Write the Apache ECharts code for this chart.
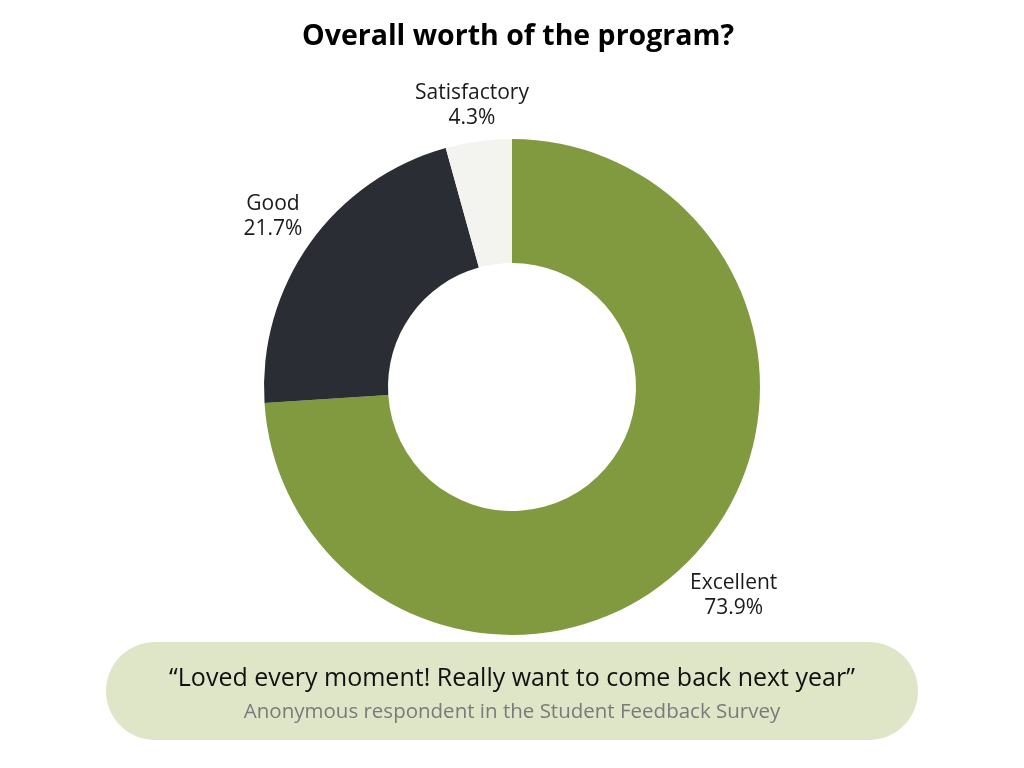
<!DOCTYPE html>
<html>
<head>
<meta charset="utf-8">
<script src="https://cdn.jsdelivr.net/npm/echarts@6/dist/echarts.min.js"></script>
<style>
html,body{margin:0;padding:0;background:#fff;}
#chart{width:1024px;height:768px;}
</style>
</head>
<body>
<div id="chart"></div>
<script>
const categories = ['Excellent', 'Good', 'Satisfactory'];
const percentages = [73.9, 21.7, 4.3];
const colors = ['#819a40', '#2a2d34', '#f3f4ef'];
const chartTitle = 'Overall worth of the program?';
const quoteText = '\u201CLoved every moment! Really want to come back next year\u201D';
const quoteSource = 'Anonymous respondent in the Student Feedback Survey';

const FONT = '"Open Sans", Lato, sans-serif';
// label nudges in px (style only)
const labelShiftY = [5, 2, 13];
const labelShiftX = [5, 3, 0];

const pieData = categories.map((c, i) => ({ name: c, value: percentages[i], itemStyle: { color: colors[i] } }));
const labelData = categories.map((c, i) => ({ name: c, value: percentages[i] }));

const labelTextStyle = { fontFamily: FONT, fontSize: 21, lineHeight: 25, color: '#1a1a1a', align: 'center' };

const chart = echarts.init(document.getElementById('chart'), null, { renderer: 'canvas' });
chart.setOption({
  backgroundColor: '#ffffff',
  animation: false,
  title: [
    {
      text: chartTitle,
      left: 297,
      top: 17,
      textStyle: { fontFamily: FONT, fontSize: 28.5, fontWeight: 'bold', color: '#000' }
    },
    {
      text: quoteText,
      subtext: quoteSource,
      left: 'center',
      top: 661,
      itemGap: 11,
      textStyle: { fontFamily: FONT, fontSize: 25, fontWeight: 'normal', color: '#111' },
      subtextStyle: { fontFamily: FONT, fontSize: 20.5, color: '#7a7a7a' }
    }
  ],
  graphic: [
    {
      type: 'rect',
      z: -10,
      shape: { x: 106, y: 642, width: 812, height: 98, r: 49 },
      style: { fill: '#dfe6c8' },
      silent: true
    }
  ],
  series: [
    {
      type: 'pie',
      center: [512, 387],
      radius: [124, 248],
      startAngle: 90,
      clockwise: true,
      silent: true,
      label: { show: false },
      labelLine: { show: false },
      data: pieData
    },
    {
      type: 'pie',
      center: [512, 387],
      radius: [248, 340],
      startAngle: 90,
      clockwise: true,
      silent: true,
      itemStyle: { color: 'rgba(0,0,0,0)' },
      label: {
        show: true,
        position: 'inside',
        formatter: function (p) {
          return '{sp| }\n{t|' + p.name + '}\n{t|' + p.value + '%}';
        },
        align: 'center',
        rich: {
          t: labelTextStyle,
          sp: { fontSize: 1, lineHeight: 1, height: 1 }
        }
      },
      labelLine: { show: false },
      data: labelData.map((d, i) => ({
        name: d.name,
        value: d.value,
        label: {
          rich: {
            sp: { fontSize: 1, lineHeight: labelShiftY[i] * 2, height: labelShiftY[i] * 2 },
            t: Object.assign({}, labelTextStyle, { padding: [0, 0, 0, labelShiftX[i] * 2] })
          }
        }
      }))
    }
  ]
});
</script>
</body>
</html>
